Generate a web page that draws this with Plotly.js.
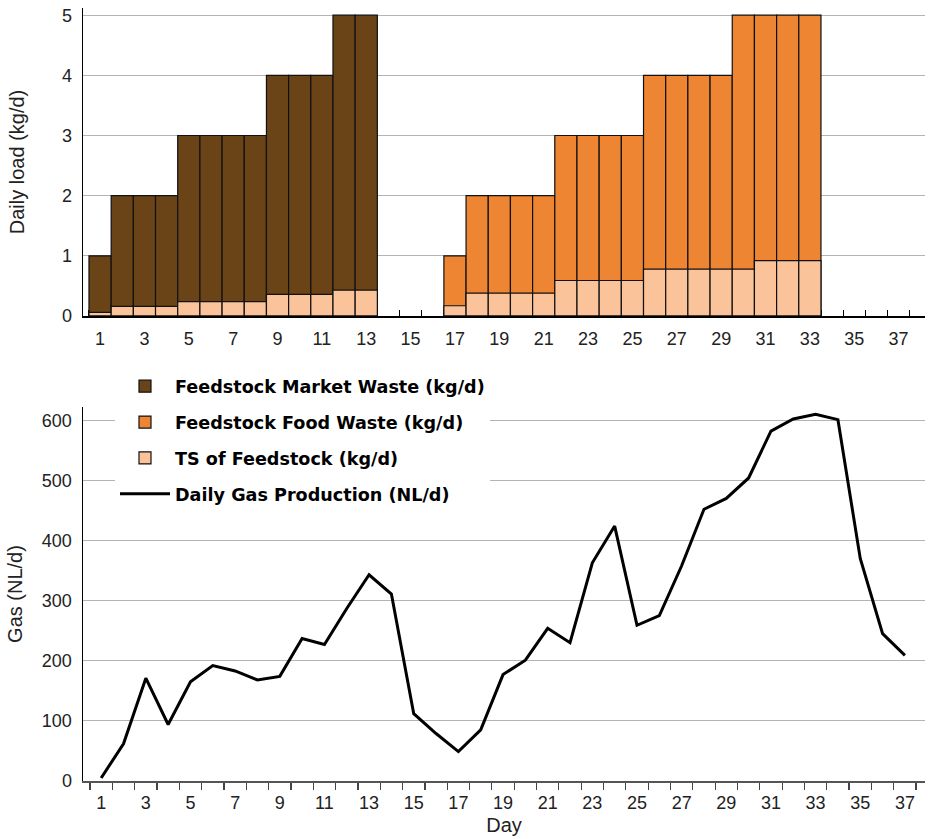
<!DOCTYPE html>
<html>
<head>
<meta charset="utf-8">
<script src="https://cdn.plot.ly/plotly-3.0.1.min.js"></script>
<style>html,body{margin:0;padding:0;background:#fff;}#chart{width:929px;height:839px;}</style>
</head>
<body>
<div id="chart"></div>
<script>
// ---- data ----
const dayLabels = ['1','3','5','7','9','11','13','15','17','19','21','23','25','27','29','31','33','35','37'];
const dayLabelVals = [1,3,5,7,9,11,13,15,17,19,21,23,25,27,29,31,33,35,37];

const marketDays = [1,2,3,4,5,6,7,8,9,10,11,12,13];
const marketLoad = [1,2,2,2,3,3,3,3,4,4,4,5,5];

const foodDays = [17,18,19,20,21,22,23,24,25,26,27,28,29,30,31,32,33];
const foodLoad = [1,2,2,2,2,3,3,3,3,4,4,4,4,5,5,5,5];

const tsDays = [1,2,3,4,5,6,7,8,9,10,11,12,13,17,18,19,20,21,22,23,24,25,26,27,28,29,30,31,32,33];
const tsLoad = [0.06,0.16,0.16,0.16,0.24,0.24,0.24,0.24,0.36,0.36,0.36,0.43,0.43,
                0.17,0.38,0.38,0.38,0.38,0.59,0.59,0.59,0.59,0.78,0.78,0.78,0.78,0.78,0.92,0.92,0.92];

const gasDays = [1,2,3,4,5,6,7,8,9,10,11,12,13,14,15,16,17,18,19,20,21,22,23,24,25,26,27,28,29,30,31,32,33,34,35,36,37];
const gasProd = [5,62,171,94,165,192,183,168,174,237,227,287,343,311,112,79,49,85,177,201,254,230,363,424,259,275,358,452,470,504,582,602,610,601,370,245,209];

// ---- styles ----
const tickFont = {family: 'Liberation Sans, Arial, sans-serif', size: 18, color: '#222'};
const titleFont = {family: 'Liberation Sans, Arial, sans-serif', size: 20, color: '#222'};
const gridColor = '#b4b4b4';

const traces = [
  {type: 'bar', name: 'Feedstock Market Waste (kg/d)', x: marketDays, y: marketLoad,
   xaxis: 'x', yaxis: 'y', width: 1, legendgroup: 'a',
   marker: {color: '#6a4417', line: {color: '#111', width: 1.2}}, hoverinfo: 'x+y'},
  {type: 'bar', name: 'Feedstock Food Waste (kg/d)', x: foodDays, y: foodLoad,
   xaxis: 'x', yaxis: 'y', width: 1, legendgroup: 'b',
   marker: {color: '#ee8532', line: {color: '#111', width: 1.2}}, hoverinfo: 'x+y'},
  {type: 'bar', name: 'TS of Feedstock (kg/d)', x: tsDays, y: tsLoad,
   xaxis: 'x', yaxis: 'y', width: 1, legendgroup: 'c',
   marker: {color: '#fac39a', line: {color: '#111', width: 1.2}}, hoverinfo: 'x+y'},
  {type: 'scatter', mode: 'lines', name: 'Daily Gas Production (NL/d)', x: gasDays, y: gasProd,
   xaxis: 'x2', yaxis: 'y2', legendgroup: 'd',
   line: {color: '#000', width: 3}}
];

const layout = {
  width: 929, height: 839,
  margin: {l: 83, r: 4, t: 8, b: 58},
  paper_bgcolor: '#fff', plot_bgcolor: '#fff',
  barmode: 'overlay', bargap: 0,
  showlegend: true,
  legend: {
    x: 0.038, y: 0.534, xanchor: 'left', yanchor: 'top',
    bgcolor: '#fff', borderwidth: 0,
    font: {family: 'DejaVu Sans, sans-serif', size: 17.6, color: '#000', weight: 'bold'},
    traceorder: 'grouped', tracegroupgap: 10, itemwidth: 50
  },
  xaxis: {
    domain: [0, 1], anchor: 'y', range: [0.23, 38.19],
    tickmode: 'array', tickvals: dayLabelVals, ticktext: dayLabels, ticks: '',
    minor: {tickmode: 'linear', tick0: 0.5, dtick: 1, ticks: 'inside', ticklen: 6, tickwidth: 1.2, tickcolor: '#000', showgrid: false},
    showline: true, linecolor: '#000', linewidth: 1.8, showgrid: false, zeroline: false,
    tickfont: tickFont, ticklabelstandoff: 6, layer: 'below traces'
  },
  yaxis: {
    domain: [0.6016, 1], anchor: 'x', range: [0, 5.12],
    tickvals: [0,1,2,3,4,5], ticks: '',
    showline: true, linecolor: '#000', linewidth: 1.5,
    showgrid: true, gridcolor: gridColor, gridwidth: 1.2, zeroline: false,
    tickfont: tickFont, ticklabelstandoff: 6,
    title: {text: 'Daily load (kg/d)', font: titleFont, standoff: 32}
  },
  xaxis2: {
    domain: [0, 1], anchor: 'y2', range: [0.186, 37.9],
    tickmode: 'array', tickvals: dayLabelVals, ticktext: dayLabels, ticks: '',
    minor: {tickmode: 'linear', tick0: 0.5, dtick: 1, ticks: 'outside', ticklen: 7, tickwidth: 1.2, tickcolor: '#444', showgrid: false},
    showline: true, linecolor: '#555', linewidth: 2, showgrid: false, zeroline: false,
    tickfont: tickFont, ticklabelstandoff: 4,
    title: {text: 'Day', font: titleFont, standoff: 6}
  },
  xaxis3: {
    overlaying: 'x2', anchor: 'y2', range: [0.186, 37.9],
    tickmode: 'linear', tick0: 0.5, dtick: 1, ticks: 'inside', ticklen: 7, tickwidth: 1.2, tickcolor: '#444',
    showticklabels: false, showline: false, showgrid: false, zeroline: false
  },
  yaxis2: {
    domain: [0, 0.4838], anchor: 'x2', range: [0, 622],
    tickvals: [0,100,200,300,400,500,600], ticks: '',
    showline: true, linecolor: '#000', linewidth: 1.5,
    showgrid: true, gridcolor: gridColor, gridwidth: 1.2, zeroline: false,
    tickfont: tickFont, ticklabelstandoff: 6,
    title: {text: 'Gas (NL/d)', font: titleFont, standoff: 14}
  }
};

Plotly.newPlot('chart', traces, layout, {displayModeBar: false, staticPlot: true});
</script>
</body>
</html>
